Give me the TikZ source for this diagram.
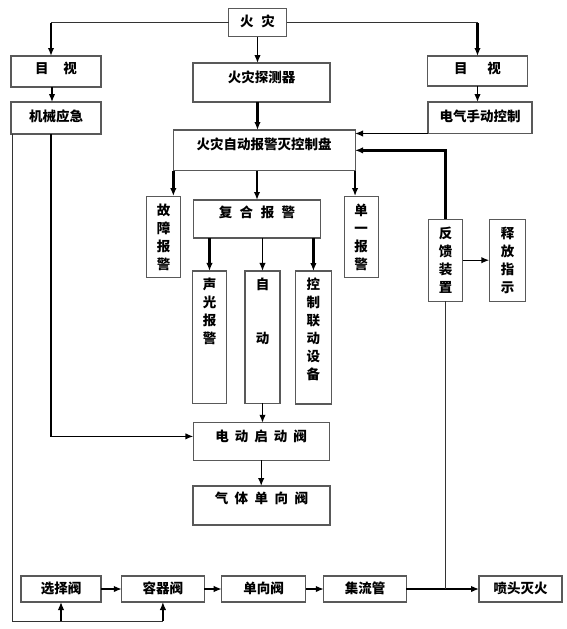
\documentclass[tikz,border=0pt]{standalone}
\usepackage{fontspec}
\newfontfamily\cjk{Noto Sans CJK SC}
\usetikzlibrary{arrows.meta}

\tikzset{
  box/.style={draw=black!65, line width=1.1pt, inner sep=0pt, outer sep=0pt,
    align=center, font=\cjk\bfseries\fontsize{13.5}{18}\selectfont},
  drop/.style={text height=12pt, text depth=#1},
  sink/.style={text depth=#1},
  link/.style={draw=black!80, line width=1pt},
  arr/.style={-{Latex[length=8pt,width=6.5pt]}, line width=1.4pt},
  fat/.style={arr, line width=2.6pt},
}

\begin{document}
\begin{tikzpicture}[x=1pt,y=-1pt]
\useasboundingbox (0,0) rectangle (567,629);

% top row
\node[box, minimum width=58, minimum height=28.5, drop=3.5] (fire) at (257.5,22.5) {火\hspace{8pt}灾};
\node[box, minimum width=90, minimum height=31, drop=8] (eyeL) at (56,71.5) {目\hspace{15pt}视};
\node[box, minimum width=137, minimum height=39, drop=12.8] (detect) at (261.5,82.5) {火灾探测器};
\node[box, minimum width=100, minimum height=30, drop=8] (eyeR) at (477.5,71) {目\hspace{20pt}视};
\node[box, minimum width=90, minimum height=32, drop=4.4] (mech) at (56,118) {机械应急};
\node[box, minimum width=104, minimum height=31.5, drop=4.8] (elec) at (480,117.75) {电气手动控制};

% control panel and alarms
\node[box, minimum width=181.7, minimum height=40.7, drop=14.4] (panel) at (264.2,150.35) {火灾自动报警灭控制盘};
\node[box, minimum width=34, minimum height=81.7] (fault) at (163.7,236.9) {故\\障\\报\\警};
\node[box, minimum width=127.4, minimum height=38, drop=14.4] (combo) at (257,219) {复\hspace{7.5pt}合\hspace{7.5pt}报\hspace{7.5pt}警};
\node[box, minimum width=34.3, minimum height=81.7] (single) at (361.2,236.9) {单\\一\\报\\警};
\node[box, minimum width=34.4, minimum height=132.5, sink=53.4] (sound) at (209.5,337.2) {声\\光\\报\\警};
\node[box, minimum width=35, minimum height=132.5, sink=53.4] (auto) at (262.5,337.2) {自\\[36pt]动};
\node[box, minimum width=35.3, minimum height=133, sink=18] (ctrl) at (313.4,337.5) {控\\制\\联\\动\\设\\备};
\node[box, minimum width=34.4, minimum height=81.7] (fb) at (445.5,260.2) {反\\馈\\装\\置};
\node[box, minimum width=36.4, minimum height=81.7] (rel) at (507.5,260.2) {释\\放\\指\\示};

% valves
\node[box, minimum width=135.7, minimum height=37.3, drop=12.8] (evalve) at (261.2,441.4) {电\hspace{6pt}动\hspace{6pt}启\hspace{6pt}动\hspace{6pt}阀};
\node[box, minimum width=137, minimum height=39, drop=16.8] (gvalve) at (261.5,505.5) {气\hspace{6.5pt}体\hspace{6.5pt}单\hspace{6.5pt}向\hspace{6.5pt}阀};

% bottom row
\node[box, minimum width=80, minimum height=26, drop=3.8] (sel) at (61,589) {选择阀};
\node[box, minimum width=82.3, minimum height=26, drop=3.8] (cont) at (162.9,589) {容器阀};
\node[box, minimum width=84, minimum height=26, drop=3.8] (check) at (263.7,589) {单向阀};
\node[box, minimum width=82.5, minimum height=26, drop=3.8] (pipe) at (365,589) {集流管};
\node[box, minimum width=83, minimum height=26, drop=3.8] (nozzle) at (520.5,589) {喷头灭火};
\coordinate (loop) at (12.7,621);

% connectors from the fire
\draw[link] (fire.west) -- ([xshift=-5pt]eyeL.north |- fire.west);
\draw[fat] ([xshift=-5pt]eyeL.north |- fire.west) -- ([xshift=-5pt]eyeL.north);
\draw[link] (fire.east) -- (fire.east -| eyeR.north);
\draw[fat] (fire.east -| eyeR.north) -- (eyeR.north);
\draw[arr] (fire.south) -- (fire.south |- detect.north);
\draw[fat] (fire.south |- detect.south) -- (fire.south |- panel.north);
\draw[arr] ([xshift=-4pt]eyeL.south) -- ([xshift=-4pt]mech.north);
\draw[arr] (eyeR.south) -- (eyeR.south |- elec.north);
\draw[arr] (elec.south west) -- (elec.south west -| panel.east);
\draw[fat] (fb.north) |- (panel.east);

% panel outputs
\draw[fat] (panel.south west) -- (panel.south west |- fault.north);
\draw[fat] (combo.north |- panel.south) -- (combo.north);
\draw[fat] (panel.south east) -- (panel.south east |- single.north);
\foreach \n/\w in {sound/fat,auto/arr,ctrl/fat}
  \draw[\w] (\n.north |- combo.south) -- (\n.north);
\draw[arr] (auto.south) -- (auto.south |- evalve.north);
\draw[arr] (evalve.south) -- (evalve.south |- gvalve.north);
\draw[arr] ([xshift=-5pt]mech.south) |- ([yshift=5pt]evalve.west);
\draw[arr] (fb.east) -- (rel.west);

% gas line
\draw[link] (mech.south west -| loop) -- (loop) -- (loop -| cont.south);
\draw[arr] (loop -| sel.south) -- (sel.south);
\draw[arr] (loop -| cont.south) -- (cont.south);
\foreach \a/\b in {sel/cont,cont/check,check/pipe,pipe/nozzle}
  \draw[arr] (\a.east) -- (\b.west);
\draw[link] (fb.south) -- (fb.south |- pipe.east);
\end{tikzpicture}
\end{document}
